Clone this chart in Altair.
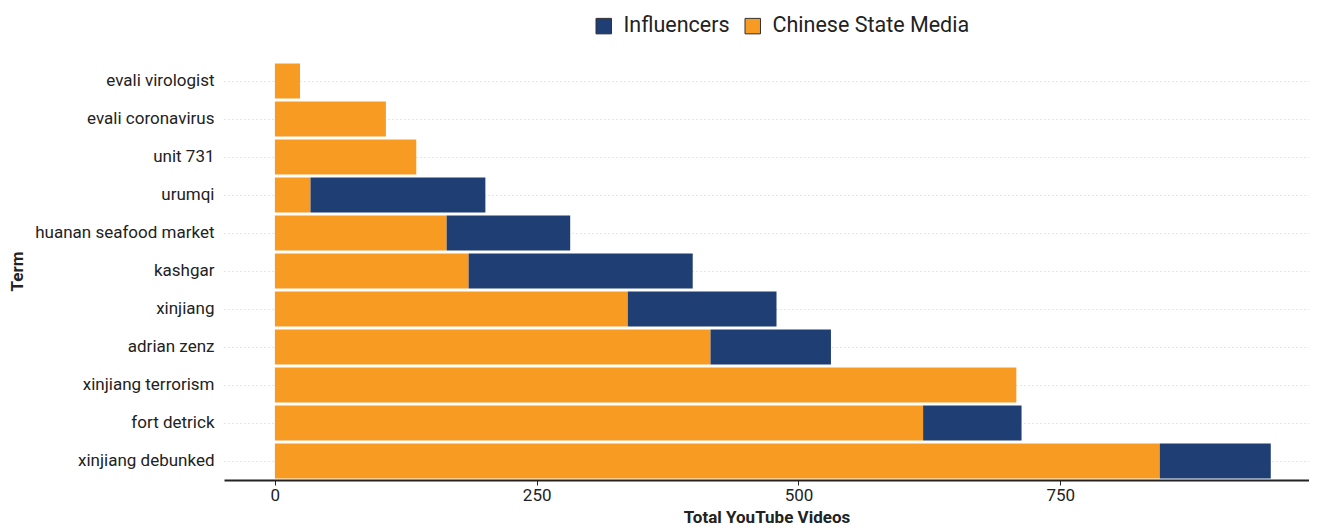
import altair as alt
import pandas as pd

terms = ["evali virologist", "evali coronavirus", "unit 731", "urumqi",
         "huanan seafood market", "kashgar", "xinjiang", "adrian zenz",
         "xinjiang terrorism", "fort detrick", "xinjiang debunked"]
state_media = [24, 106, 135, 34, 164, 185, 337, 416, 708, 619, 845]
influencers = [0, 0, 0, 167, 118, 214, 142, 115, 0, 94, 106]

groups = ["Influencers", "Chinese State Media"]
colors = ["#1F3E74", "#F89B23"]

rows = []
for t, s, i in zip(terms, state_media, influencers):
    rows.append({"Term": t, "Group": "Chinese State Media", "Videos": s, "order": 0})
    if i > 0:
        rows.append({"Term": t, "Group": "Influencers", "Videos": i, "order": 1})
df = pd.DataFrame(rows)

chart = alt.Chart(df).mark_bar().encode(
    x=alt.X("Videos:Q", stack="zero",
            scale=alt.Scale(domain=[-48.6, 987.5], nice=False, zero=False),
            axis=alt.Axis(title="Total YouTube Videos", values=[0, 250, 500, 750],
                          grid=False, domainColor="#222", domainWidth=2,
                          tickColor="#222", tickSize=5, labelFontSize=17,
                          labelColor="#222", labelPadding=2,
                          titleFontSize=17, titleFontWeight="bold", titleColor="#222",
                          titlePadding=6)),
    y=alt.Y("Term:N", sort=terms,
            scale=alt.Scale(paddingInner=0.08, paddingOuter=0.04),
            axis=alt.Axis(title="Term", ticks=False, domain=False, grid=True,
                          bandPosition=0.5, gridDash=[1, 3], gridColor="#cccccc",
                          gridWidth=1, labelFontSize=17, labelColor="#222",
                          labelPadding=10, labelLimit=400, titleFontSize=17,
                          titleFontWeight="bold", titleColor="#222", titlePadding=8)),
    color=alt.Color("Group:N", scale=alt.Scale(domain=groups, range=colors),
                    legend=alt.Legend(title=None, orient="none", direction="horizontal",
                                      legendX=369, legendY=-47, labelFontSize=21.5,
                                      labelColor="#222", symbolType="square",
                                      symbolSize=240, symbolStrokeWidth=1,
                                      symbolStrokeColor="#333", columnPadding=12,
                                      labelOffset=9, labelLimit=400)),
    order=alt.Order("order:Q"),
).properties(
    width=1085, height=418,
    padding={"left": 0, "top": 7, "right": 0, "bottom": 0}
).configure(
    font="Roboto"
).configure_view(stroke=None)

chart.save("out.html", embed_options={"renderer": "svg", "actions": False})
